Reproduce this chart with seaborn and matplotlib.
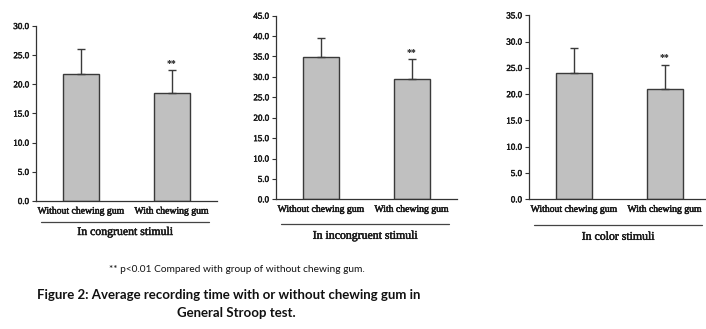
import matplotlib
matplotlib.use("Agg")
import matplotlib.pyplot as plt
import matplotlib.patheffects as pe
import seaborn as sns
import pandas as pd
from matplotlib.lines import Line2D

categories = ["Without chewing gum", "With chewing gum"]
panel_titles = ["In congruent stimuli", "In incongruent stimuli", "In color stimuli"]
means_congruent = [21.7, 18.5]
sd_congruent = [4.3, 3.9]
means_incongruent = [34.8, 29.6]
sd_incongruent = [4.7, 4.7]
means_color = [24.1, 21.05]
sd_color = [4.7, 4.45]
y_max = [30.0, 45.0, 35.0]
y_step = 5.0
star_label = "**"
footnote = "** p<0.01 Compared with group of without chewing gum."
caption_1 = "Figure 2: Average recording time with or without chewing gum in"
caption_2 = "General Stroop test."

means = [means_congruent, means_incongruent, means_color]
sds = [sd_congruent, sd_incongruent, sd_color]

sns.set_style("white")
plt.rcParams["font.family"] = ["Liberation Serif", "DejaVu Serif"]

W, H = 706, 329
fig = plt.figure(figsize=(W / 100, H / 100), dpi=100)
fig.patch.set_facecolor("white")

dark = [pe.withStroke(linewidth=0.35, foreground="#1a1a1a")]

# axes boxes in pixels: left, top, right, bottom
boxes = [(36, 26, 217, 201), (276, 15.7, 457, 199.3), (529, 15.3, 710, 199.3)]
line_off = [21, 24.7, 25.7]
title_off = [31, 36.5, 37.5]

for i in range(3):
    l, t, r, b = boxes[i]
    ax = fig.add_axes([l / W, 1 - b / H, (r - l) / W, (b - t) / H])
    df = pd.DataFrame({"group": categories, "value": means[i]})
    sns.barplot(data=df, x="group", y="value", ax=ax, color="#c0c0c0",
                edgecolor="#3a3a3a", linewidth=1.0, width=0.4, saturation=1)
    ax.errorbar(range(len(categories)), means[i],
                yerr=[[0] * len(categories), sds[i]], fmt="none",
                ecolor="#3a3a3a", elinewidth=1.0, capsize=3, capthick=1.0)
    ax.text(1, means[i][1] + sds[i][1] + y_max[i] * 0.015, star_label,
            ha="center", va="bottom", fontsize=7, fontweight="bold", color="#1a1a1a")
    ax.set_xlim(-0.5, 1.5)
    ax.set_ylim(0, y_max[i])
    ticks = [k * y_step for k in range(int(y_max[i] / y_step) + 1)]
    ax.set_yticks(ticks)
    ax.set_yticklabels([f"{v:.1f}" for v in ticks], fontsize=6.5, color="#1a1a1a",
                       path_effects=dark)
    ax.set_xticks([0, 1])
    ax.set_xticklabels(categories, fontsize=7, color="#1a1a1a", path_effects=dark)
    ax.set_xticks([0.5, 1.5], minor=True)
    ax.tick_params(axis="x", which="major", length=0, pad=4)
    ax.tick_params(axis="x", which="minor", length=3, width=0.8, direction="out", color="#333333")
    ax.tick_params(axis="y", length=3, width=0.8, direction="out", left=True, color="#333333", pad=2)
    ax.set_xlabel("")
    ax.set_ylabel("")
    for s in ["top", "right"]:
        ax.spines[s].set_visible(False)
    for s in ["left", "bottom"]:
        ax.spines[s].set_color("#333333")
        ax.spines[s].set_linewidth(0.9)
    hpx = b - t
    wpx = r - l
    yl = -line_off[i] / hpx
    ax.add_line(Line2D([5 / wpx, 173 / wpx], [yl, yl], transform=ax.transAxes,
                       color="#444444", linewidth=0.9, clip_on=False))
    ax.text(0.5 * (5 + 173) / wpx, -title_off[i] / hpx, panel_titles[i],
            transform=ax.transAxes, ha="center", va="center", fontsize=8.5,
            color="#1a1a1a", path_effects=dark)

fig.text(237 / W, 1 - 270 / H, footnote, ha="center", va="center",
         fontsize=7.3, family=["Lato", "DejaVu Sans"], color="#111111")
fig.text(229 / W, 1 - 295 / H, caption_1, ha="center", va="center",
         fontsize=9.5, fontweight="bold", family=["Lato", "DejaVu Sans"], color="#111111")
fig.text(236 / W, 1 - 313 / H, caption_2, ha="center", va="center",
         fontsize=9.5, fontweight="bold", family=["Lato", "DejaVu Sans"], color="#111111")

fig.savefig("out.png", dpi=100, facecolor="white")
